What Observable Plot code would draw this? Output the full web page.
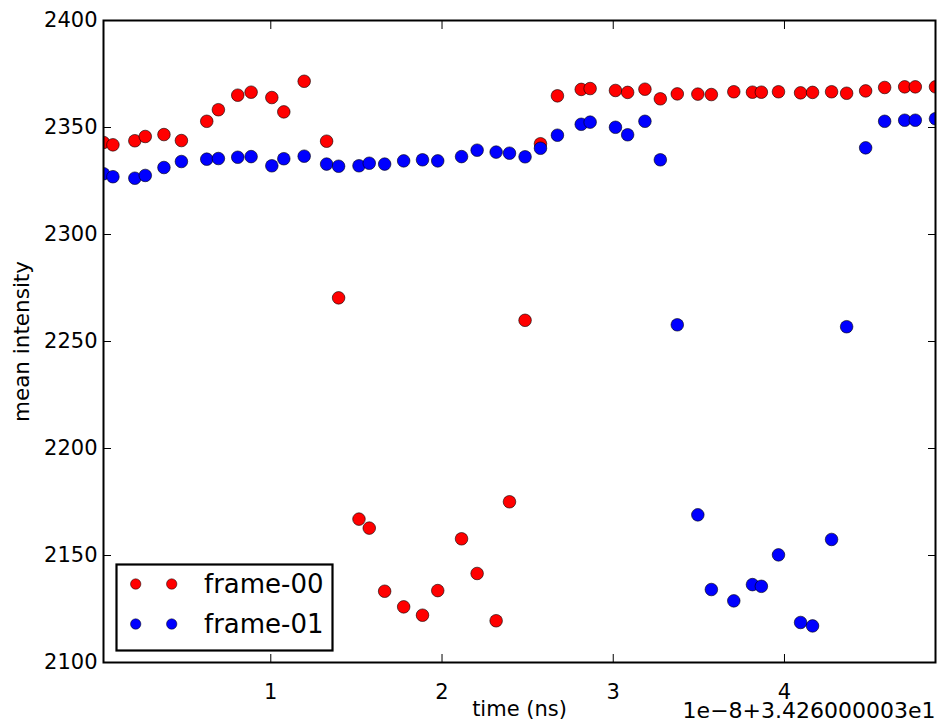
<!DOCTYPE html>
<html>
<head>
<meta charset="utf-8">
<script src="https://cdn.jsdelivr.net/npm/d3@7"></script>
<script src="https://cdn.jsdelivr.net/npm/@observablehq/plot@0.6"></script>
<style>
  html, body { margin: 0; padding: 0; background: #fff; }
  #chart { width: 938px; height: 722px; }
  svg { display: block; }
</style>
</head>
<body>
<div id="chart"></div>
<script>
// time offsets (ns, relative to axis offset 1e-8 + 3.426000003e1)
const time = [0.023, 0.078, 0.206, 0.267, 0.376, 0.478, 0.626, 0.694, 0.807, 0.885,
              1.006, 1.076, 1.195, 1.326, 1.396, 1.515, 1.575, 1.665, 1.776, 1.886,
              1.975, 2.114, 2.205, 2.316, 2.394, 2.485, 2.575, 2.674, 2.813, 2.865,
              3.013, 3.084, 3.185, 3.275, 3.374, 3.494, 3.573, 3.704, 3.813, 3.865,
              3.965, 4.094, 4.164, 4.275, 4.363, 4.474, 4.585, 4.702, 4.764, 4.882];

const frame00 = [2343.0, 2341.9, 2343.8, 2345.8, 2346.7, 2343.9, 2352.9, 2358.3, 2365.1, 2366.5,
                 2364.0, 2357.3, 2371.6, 2343.6, 2270.4, 2167.0, 2162.8, 2133.3, 2126.0, 2122.1,
                 2133.6, 2157.8, 2141.6, 2119.5, 2175.1, 2259.9, 2342.4, 2364.8, 2367.8, 2368.2,
                 2367.3, 2366.4, 2367.9, 2363.4, 2365.7, 2365.6, 2365.4, 2366.7, 2366.5, 2366.5,
                 2366.7, 2366.2, 2366.4, 2366.7, 2366.0, 2367.1, 2368.7, 2369.0, 2369.0, 2369.0];

const frame01 = [2328.4, 2327.0, 2326.3, 2327.6, 2331.3, 2334.1, 2335.2, 2335.5, 2336.1, 2336.4,
                 2332.1, 2335.4, 2336.6, 2332.9, 2331.9, 2332.1, 2333.3, 2332.9, 2334.4, 2334.9,
                 2334.4, 2336.4, 2339.4, 2338.5, 2338.0, 2336.3, 2340.3, 2346.4, 2351.5, 2352.5,
                 2350.1, 2346.6, 2352.9, 2334.9, 2257.8, 2169.0, 2134.1, 2128.8, 2136.4, 2135.6,
                 2150.3, 2118.7, 2117.1, 2157.5, 2256.9, 2340.5, 2352.9, 2353.4, 2353.4, 2354.1];

const seriesNames = ["frame-00", "frame-01"];
const seriesColors = ["#ff0000", "#0000ff"];
const xTicks = [1, 2, 3, 4];
const yTicks = [2100, 2150, 2200, 2250, 2300, 2350, 2400];
const xLabel = "time (ns)";
const yLabel = "mean intensity";
const offsetText = "1e\u22128+3.426000003e1";

// tidy table: all frame-00 points first, then frame-01 (drawn on top)
const seriesValues = [frame00, frame01];
const data = [];
seriesNames.forEach((name, s) => {
  time.forEach((t, i) => data.push({ t, v: seriesValues[s][i], series: name }));
});

const FONT = "'DejaVu Sans', 'Liberation Sans', sans-serif";
const plain = d => String(d);

const plot = Plot.plot({
  width: 938,
  height: 722,
  marginLeft: 103,
  marginRight: 3,
  marginTop: 20,
  marginBottom: 60,
  style: { fontFamily: FONT, fontSize: "21px", color: "#000", background: "#fff", overflow: "visible" },
  x: { domain: [time[0], time[time.length - 1]] },
  y: { domain: [yTicks[0], yTicks[yTicks.length - 1]] },
  color: { domain: seriesNames, range: seriesColors },
  marks: [
    Plot.dot(data, { x: "t", y: "v", fill: "series", stroke: "#000", strokeWidth: 0.6, r: 6.3, clip: true }),
    Plot.axisX({ ticks: xTicks, tickSize: -8, tickPadding: 30, tickFormat: plain, label: null, fontSize: 21 }),
    Plot.axisX({ anchor: "top", ticks: xTicks, tickSize: -8, tickFormat: () => "", label: null }),
    Plot.axisY({ ticks: yTicks, tickSize: -8, tickPadding: 14, tickFormat: plain, label: null, fontSize: 21 }),
    Plot.axisY({ anchor: "right", ticks: yTicks, tickSize: -8, tickFormat: () => "", label: null }),
    Plot.frame({ stroke: "#000", strokeWidth: 2 }),
    Plot.text([xLabel], { frameAnchor: "bottom", lineAnchor: "middle", dy: 47, fontSize: 21, fill: "#000" }),
    Plot.text([offsetText], { frameAnchor: "bottom-right", textAnchor: "end", lineAnchor: "middle", dy: 48, fontSize: 22, fill: "#000" }),
    Plot.text([yLabel], { frameAnchor: "left", textAnchor: "middle", lineAnchor: "middle", rotate: -90, dx: -81, fontSize: 21.5, fill: "#000" })
  ]
});

// legend drawn inside the plot area (lower-left), matplotlib style
const svg = d3.select(plot);
const legend = svg.append("g").attr("font-family", FONT).attr("text-anchor", "start");
legend.append("rect")
  .attr("x", 116.5).attr("y", 564.5).attr("width", 216).attr("height", 86)
  .attr("fill", "#fff").attr("stroke", "#000").attr("stroke-width", 2.2);
seriesNames.forEach((name, i) => {
  const cy = 584 + i * 40;
  [135.7, 171.7].forEach(cx => {
    legend.append("circle").attr("cx", cx).attr("cy", cy).attr("r", 5.2)
      .attr("fill", seriesColors[i]).attr("stroke", "#000").attr("stroke-width", 0.5);
  });
  legend.append("text").attr("x", 204).attr("y", cy).attr("dy", "0.35em")
    .attr("text-anchor", "start")
    .attr("font-size", 26).attr("fill", "#000").text(name);
});

document.getElementById("chart").appendChild(plot);
</script>
</body>
</html>
